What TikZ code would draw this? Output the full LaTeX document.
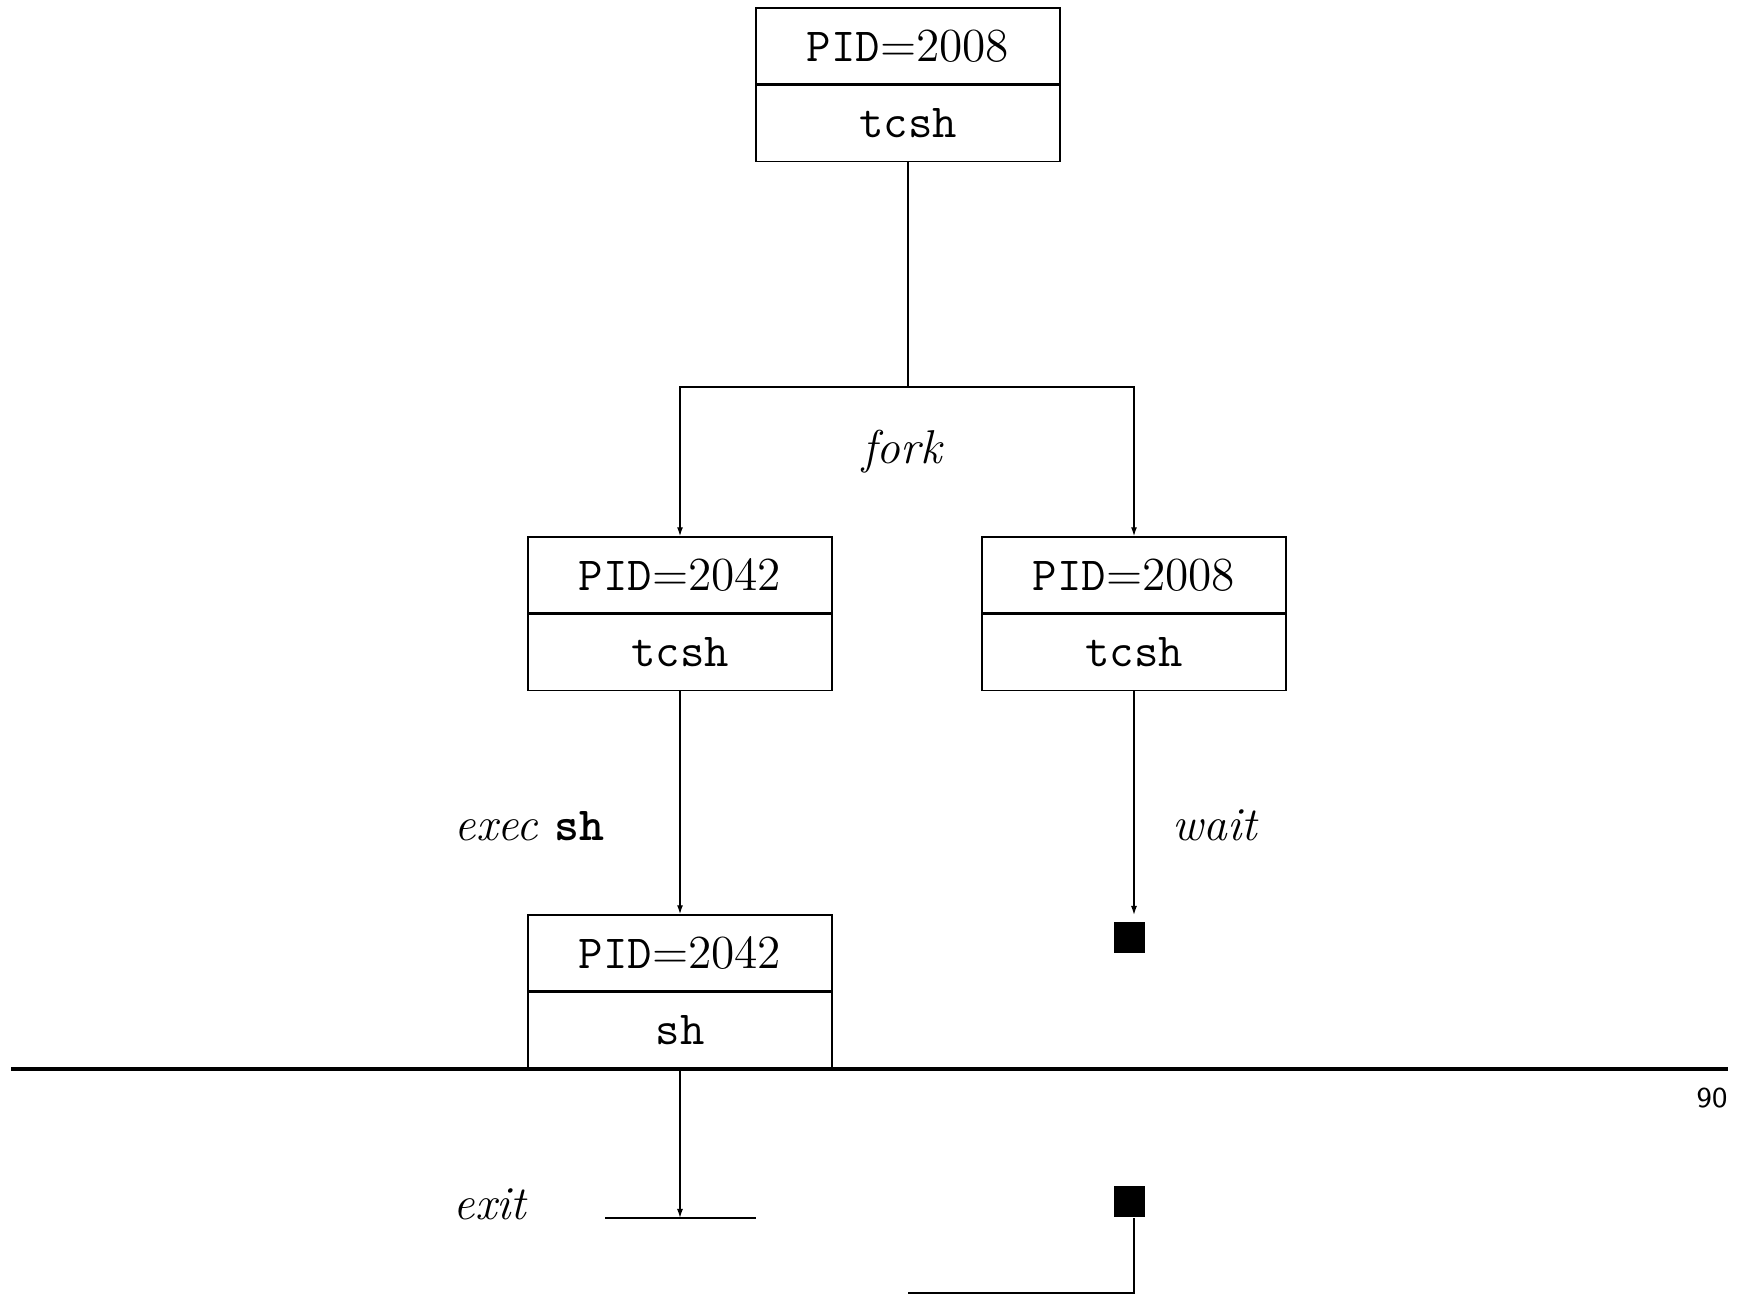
\documentclass[tikz,border=0pt]{standalone}
\usepackage{tikz}
\usetikzlibrary{arrows.meta,positioning}
\tikzset{
  pidbox/.style={rectangle, draw=black, line width=0.4pt, minimum width=3.04cm,
                 minimum height=0.76cm, inner sep=0pt, align=center,
                 font=\fontsize{13.5}{16}\selectfont},
  namebox/.style={pidbox, font=\fontsize{13.5}{16}\selectfont\ttfamily},
  endmark/.style={rectangle, fill=black, minimum size=3.1mm, inner sep=0pt},
  arrow/.style={-{Latex[length=0.9mm, width=0.6mm]}, line width=0.4pt},
  lbl/.style={font=\fontsize{13.5}{16}\selectfont\itshape, inner sep=0pt, anchor=base west},
  rule/.style={line width=0.9pt},
}
\begin{document}
\begin{tikzpicture}
  \useasboundingbox (0,0) rectangle (17.48,-12.94);
  % processes
  \node[pidbox] (toppid) at (9.08,-0.46) {\texttt{PID}=2008};
  \node[namebox, below=0pt of toppid] (topname) {tcsh};
  \node[pidbox] (leftpid) at (6.80,-5.75) {\texttt{PID}=2042};
  \node[namebox, below=0pt of leftpid] (leftname) {tcsh};
  \node[pidbox] (rightpid) at (11.34,-5.75) {\texttt{PID}=2008};
  \node[namebox, below=0pt of rightpid] (rightname) {tcsh};
  \node[pidbox] (botpid) at (6.80,-9.53) {\texttt{PID}=2042};
  \node[namebox, below=0pt of botpid] (botname) {sh};
  % end marks
  \node[endmark] (wait1) at (11.29,-9.375) {};
  \node[endmark] (wait2) at (11.29,-12.02) {};
  \coordinate (fork) at (9.08,-3.87);
  \coordinate (waitend) at (11.34,-9.15);
  \coordinate (exitpt) at (6.80,-12.18);
  \coordinate (exitL) at (6.05,-12.18);
  \coordinate (exitR) at (7.56,-12.18);
  \coordinate (join) at (9.08,-12.93);
  % connectors
  \draw[line width=0.4pt] (topname) -- (fork);
  \draw[arrow] (fork) -| (leftpid);
  \draw[arrow] (fork) -| (rightpid);
  \draw[arrow] (leftname) -- (botpid);
  \draw[arrow] (rightname) -- (waitend);
  \draw[arrow] (botname) -- (exitpt);
  \draw[line width=0.4pt] (exitL) -- (exitR);
  \draw[line width=0.4pt] (wait2.south -| rightname.south) |- (join);
  % labels
  \node[lbl] at (8.62,-4.64) {fork};
  \node[lbl] at (4.54,-8.41) {exec {\upshape\ttfamily\bfseries sh}};
  \node[lbl] at (11.72,-8.41) {wait};
  \node[lbl] at (4.53,-12.20) {exit};
  % page break
  \draw[rule] (0.11,-10.69) -- (17.28,-10.69);
  \node[anchor=base east, inner sep=0pt, font=\sffamily\fontsize{8.2}{10}\selectfont] at (17.28,-11.08) {90};
\end{tikzpicture}
\end{document}
